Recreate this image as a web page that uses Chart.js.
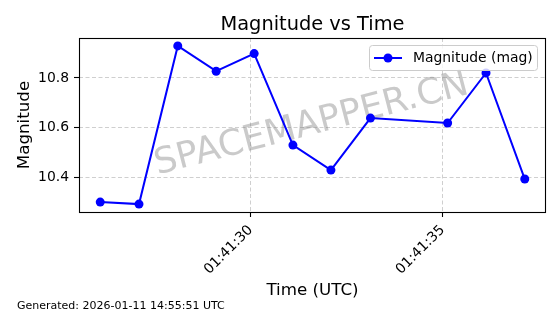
<!DOCTYPE html>
<html>
<head>
<meta charset="utf-8">
<script src="https://cdn.jsdelivr.net/npm/chart.js@4.4.0/dist/chart.umd.min.js"></script>
<style>
  html, body { margin: 0; padding: 0; background: #fff; }
  #wrap { width: 560px; height: 314px; }
</style>
</head>
<body>
<div id="wrap"><canvas id="myChart" width="560" height="314"></canvas></div>
<script>
// seconds after 01:41:00 UTC
const timeSeconds = [26.08, 27.09, 28.10, 29.10, 30.09, 31.10, 32.09, 33.12, 35.13, 36.13, 37.14];
const magnitudes  = [10.299, 10.291, 10.929, 10.827, 10.898, 10.529, 10.428, 10.638, 10.618, 10.820, 10.392];

const xTickValues = [30, 35];
const xTickLabels = ['01:41:30', '01:41:35'];
const yTickValues = [10.4, 10.6, 10.8];

const seriesLabel = 'Magnitude (mag)';
const chartTitle = 'Magnitude vs Time';
const footerText = 'Generated: 2026-01-11 14:55:51 UTC';
const watermark = 'SPACEMAPPER.CN';

const FONT = "'DejaVu Sans', sans-serif";
const BLUE = '#0000ff';

// matplotlib-like 5% margins
const pad = (lo, hi) => { const m = (hi - lo) * 0.05; return [lo - m, hi + m]; };
const [xMin, xMax] = pad(Math.min(...timeSeconds), Math.max(...timeSeconds));
const [yMin, yMax] = pad(Math.min(...magnitudes), Math.max(...magnitudes));

const points = timeSeconds.map((t, i) => ({ x: t, y: magnitudes[i] }));

const decorations = {
  id: 'decorations',
  beforeDatasetsDraw(chart) {
    const { ctx, chartArea: a } = chart;
    ctx.save();
    ctx.translate((a.left + a.right) / 2 - 1, (a.top + a.bottom) / 2);
    ctx.rotate(-14.5 * Math.PI / 180);
    ctx.font = '36px ' + FONT;
    ctx.fillStyle = 'rgba(128,128,128,0.42)';
    ctx.textAlign = 'center';
    ctx.textBaseline = 'middle';
    ctx.fillText(watermark, 0, 0);
    ctx.restore();
  },
  afterDraw(chart) {
    const { ctx, chartArea: a } = chart;
    ctx.save();
    // axes frame
    ctx.strokeStyle = '#000';
    ctx.lineWidth = 1.1;
    ctx.strokeRect(a.left + 0.5, a.top + 0.5, a.right - a.left - 1, a.bottom - a.top);

    // title
    ctx.fillStyle = '#000';
    ctx.font = '19.4px ' + FONT;
    ctx.textAlign = 'center';
    ctx.textBaseline = 'alphabetic';
    ctx.fillText(chartTitle, (a.left + a.right) / 2, 30);

    // footer
    ctx.font = '11px ' + FONT;
    ctx.textAlign = 'left';
    ctx.fillText(footerText, 17, 309);

    // legend
    const bx = a.right - 177, by = a.top + 7, bw = 168, bh = 25;
    ctx.beginPath();
    ctx.roundRect(bx + 0.5, by + 0.5, bw, bh, 3);
    ctx.fillStyle = 'rgba(255,255,255,0.8)';
    ctx.fill();
    ctx.strokeStyle = '#cccccc';
    ctx.lineWidth = 1;
    ctx.stroke();
    const ly = by + bh / 2 + 0.5;
    ctx.beginPath();
    ctx.moveTo(bx + 5, ly);
    ctx.lineTo(bx + 33, ly);
    ctx.strokeStyle = BLUE;
    ctx.lineWidth = 2;
    ctx.stroke();
    ctx.beginPath();
    ctx.arc(bx + 19, ly, 4.5, 0, Math.PI * 2);
    ctx.fillStyle = BLUE;
    ctx.fill();
    ctx.fillStyle = '#000';
    ctx.font = '13.9px ' + FONT;
    ctx.textBaseline = 'middle';
    ctx.fillText(seriesLabel, bx + 44, ly);
    ctx.restore();
  }
};

const gridOpts = {
  color: '#cfcfcf',
  tickColor: '#000',
  tickLength: 5,
  tickWidth: 1.1,
  tickBorderDash: []
};

new Chart(document.getElementById('myChart').getContext('2d'), {
  type: 'line',
  data: {
    datasets: [{
      label: seriesLabel,
      data: points,
      borderColor: BLUE,
      backgroundColor: BLUE,
      borderWidth: 2,
      pointRadius: 4.5,
      pointHoverRadius: 4.5,
      pointBorderWidth: 0,
      tension: 0
    }]
  },
  options: {
    responsive: false,
    animation: false,
    events: [],
    layout: { padding: { top: 38, right: 14, left: 0, bottom: 0 } },
    plugins: {
      legend: { display: false },
      title: { display: false },
      tooltip: { enabled: false }
    },
    scales: {
      x: {
        type: 'linear',
        min: xMin,
        max: xMax,
        afterFit(s) { s.height = 102; },
        afterBuildTicks(s) { s.ticks = xTickValues.map(v => ({ value: v })); },
        ticks: {
          color: '#000',
          font: { family: FONT, size: 13.9 },
          minRotation: 45,
          maxRotation: 45,
          padding: 5,
          callback: (v) => xTickLabels[xTickValues.indexOf(v)] ?? ''
        },
        grid: gridOpts,
        border: { display: false, dash: [4, 2.5] },
        title: {
          display: true,
          text: 'Time (UTC)',
          color: '#000',
          font: { family: FONT, size: 16.7, lineHeight: 1.2 },
          padding: { top: 0, bottom: 13 }
        }
      },
      y: {
        min: yMin,
        max: yMax,
        afterFit(s) { s.width = 79; },
        afterBuildTicks(s) { s.ticks = yTickValues.map(v => ({ value: v })); },
        ticks: {
          color: '#000',
          font: { family: FONT, size: 13.9 },
          padding: 5,
          callback: (v) => v.toFixed(1)
        },
        grid: gridOpts,
        border: { display: false, dash: [4, 2.5] },
        title: {
          display: true,
          text: 'Magnitude',
          color: '#000',
          font: { family: FONT, size: 16.7, lineHeight: 1.2 },
          padding: { top: 15, bottom: 0 }
        }
      }
    }
  },
  plugins: [decorations]
});
</script>
</body>
</html>
